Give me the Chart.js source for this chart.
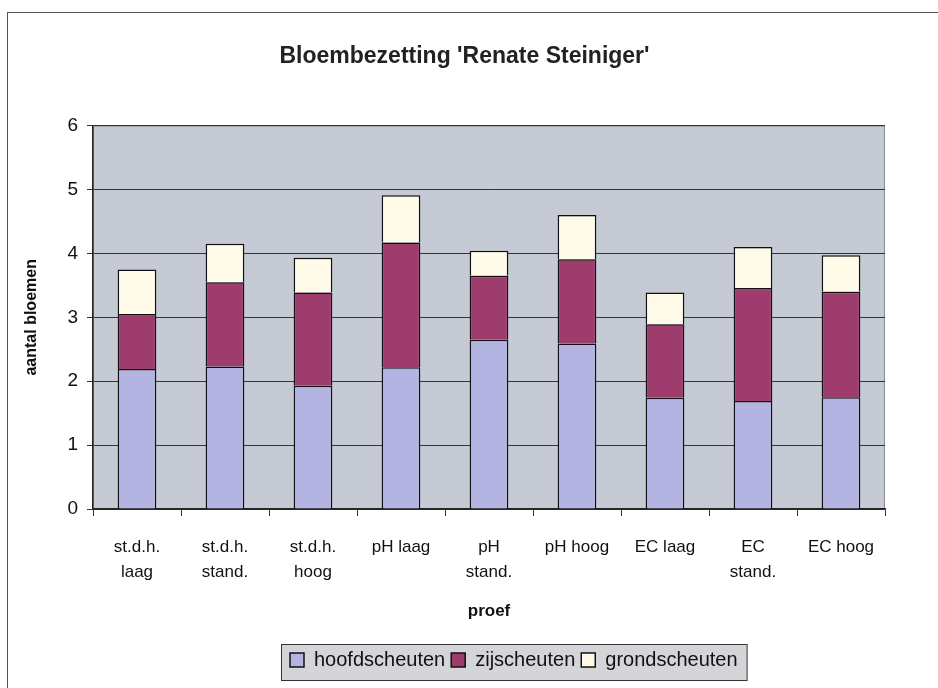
<!DOCTYPE html>
<html>
<head>
<meta charset="utf-8">
<script src="https://cdn.jsdelivr.net/npm/chart.js@4/dist/chart.umd.min.js"></script>
<style>
  html, body { margin: 0; padding: 0; background: #ffffff; }
  #wrap { position: relative; width: 938px; height: 688px; }
  #frame { position: absolute; left: 7px; top: 12px; right: 0; bottom: 0; border-top: 1px solid #555; border-left: 1px solid #555; pointer-events: none; }
  canvas { position: absolute; left: 0; top: 0; }
</style>
</head>
<body>
<div id="wrap">
  <canvas id="c" width="938" height="688"></canvas>
  <div id="frame"></div>
</div>
<script>
const chartTitle = "Bloembezetting 'Renate Steiniger'";
const xTitle = "proef";
const yTitle = "aantal bloemen";
const categories = [
  ["st.d.h.", "laag"], ["st.d.h.", "stand."], ["st.d.h.", "hoog"],
  "pH laag", ["pH", "stand."], "pH hoog",
  "EC laag", ["EC", "stand."], "EC hoog"
];
const seriesNames = ["hoofdscheuten", "zijscheuten", "grondscheuten"];
const hoofdscheuten = [2.19, 2.23, 1.93, 2.22, 2.65, 2.59, 1.74, 1.69, 1.75];
const zijscheuten   = [0.86, 1.32, 1.46, 1.95, 1.00, 1.32, 1.15, 1.77, 1.65];
const grondscheuten = [0.70, 0.60, 0.54, 0.74, 0.39, 0.69, 0.50, 0.64, 0.57];
const yTicks = [0, 1, 2, 3, 4, 5, 6];

const FONT = "'Liberation Sans Narrow', 'Liberation Sans', Arial, sans-serif";
const colors = ["#b4b4e2", "#9e3c6e", "#fffbe8"];

const bgPlugin = {
  id: 'bgPlugin',
  afterLayout(chart) {
    const l = chart.legend;
    if (l && l.lineWidths && l.lineWidths.length) {
      const w = l.lineWidths[0] + 12;
      const cx = 514;
      l.left = Math.round(cx - w / 2);
      l.right = l.left + w;
      l.width = w;
    }
    const t = chart.titleBlock;
    if (t) { t.left += 15; t.right += 15; }
  },
  beforeDraw(chart) {
    const ctx = chart.ctx;
    const a = chart.chartArea;
    ctx.save();
    ctx.fillStyle = '#c6cad4';
    ctx.fillRect(a.left, a.top, a.right - a.left, a.bottom - a.top);
    ctx.strokeStyle = '#8a8d94';
    ctx.lineWidth = 1;
    ctx.strokeRect(a.left + 0.5, a.top + 0.5, a.right - a.left - 1, a.bottom - a.top);
    const l = chart.legend;
    if (l) {
      ctx.fillStyle = '#d3d5d9';
      ctx.fillRect(l.left + 0.5, l.top + 0.5, l.width, l.height);
      ctx.strokeStyle = '#333';
      ctx.strokeRect(l.left + 0.5, l.top + 0.5, l.width, l.height);
    }
    ctx.restore();
  }
};

new Chart(document.getElementById('c'), {
  type: 'bar',
  data: {
    labels: categories,
    datasets: [
      { label: seriesNames[0], data: hoofdscheuten, backgroundColor: colors[0], borderColor: '#111', borderWidth: 1.5 },
      { label: seriesNames[1], data: zijscheuten, backgroundColor: colors[1], borderColor: '#111', borderWidth: 1.5 },
      { label: seriesNames[2], data: grondscheuten, backgroundColor: colors[2], borderColor: '#111', borderWidth: 1.5 }
    ]
  },
  options: {
    responsive: false,
    animation: false,
    devicePixelRatio: 1,
    layout: { padding: { left: 14, right: 53, top: 30, bottom: 8 } },
    datasets: { bar: { barPercentage: 0.44, categoryPercentage: 1.0 } },
    plugins: {
      title: {
        display: true, text: chartTitle, color: '#222',
        font: { family: FONT, size: 23, weight: 'bold' },
        padding: { top: 13, bottom: 55 }
      },
      legend: {
        display: true, position: 'bottom',
        labels: {
          color: '#111', font: { family: FONT, size: 20, lineHeight: 1.0 },
          boxWidth: 14, boxHeight: 14, padding: 6
        }
      },
      tooltip: { enabled: false }
    },
    scales: {
      x: {
        stacked: true,
        grid: { display: true, drawOnChartArea: false, drawTicks: true, tickLength: 7, color: '#333', offset: true },
        border: { display: true, color: '#222', width: 1.5 },
        ticks: { color: '#111', font: { family: FONT, size: 17, lineHeight: 1.45 }, maxRotation: 0, minRotation: 0, autoSkip: false, padding: 19 },
        title: { display: true, text: xTitle, color: '#111', font: { family: FONT, size: 17, weight: 'bold' }, padding: { top: 14, bottom: 22 } },
        afterFit(s) { s.height = 135; }
      },
      y: {
        stacked: true, min: 0, max: 6,
        afterBuildTicks(s) { s.ticks = yTicks.map(v => ({ value: v })); },
        grid: { color: '#333', lineWidth: 1, tickLength: 6, drawTicks: true },
        border: { display: true, color: '#222', width: 1.5 },
        ticks: { color: '#111', font: { family: FONT, size: 19 }, padding: 9 },
        title: { display: true, text: yTitle, color: '#111', font: { family: FONT, size: 16, weight: 'bold' }, padding: { top: 8, bottom: 10 } },
        afterFit(s) { s.width = 79; }
      }
    }
  },
  plugins: [bgPlugin]
});
</script>
</body>
</html>
